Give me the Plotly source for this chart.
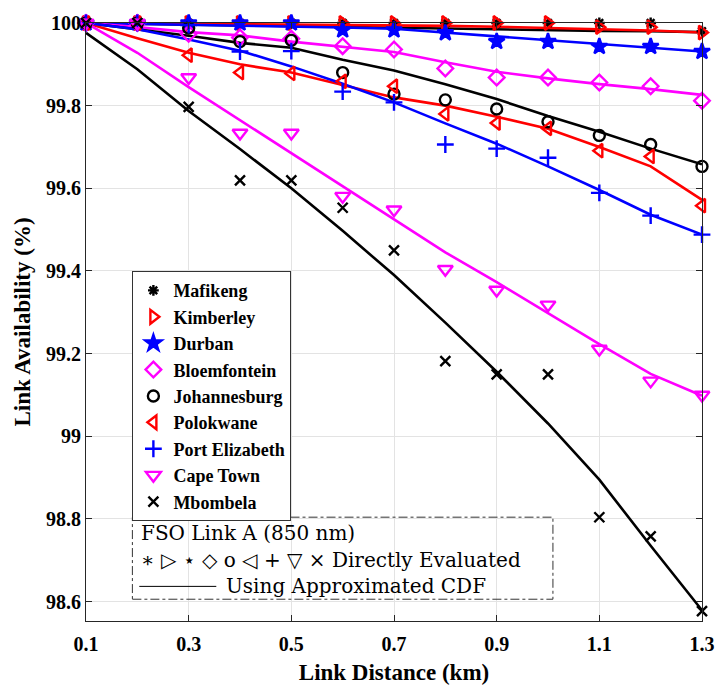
import plotly.graph_objects as go

# ---------------- data ----------------
distance_km = [0.1, 0.2, 0.3, 0.4, 0.5, 0.6, 0.7, 0.8, 0.9, 1.0, 1.1, 1.2, 1.3]

cities = ["Mafikeng", "Kimberley", "Durban", "Bloemfontein", "Johannesburg",
          "Polokwane", "Port Elizabeth", "Cape Town", "Mbombela"]

# Directly evaluated availability (%)
eval_mafikeng = [100, 100, 100, 100, 100, 100, 100, 100, 100, 100, 100, 100, 99.98]
eval_kimberley = [100, 100, 100, 100, 100, 100, 100, 100, 100, 100, 99.99, 99.99, 99.977]
eval_durban = [100, 100, 100, 100, 100, 99.983, 99.983, 99.976, 99.955, 99.955, 99.943, 99.943, 99.931]
eval_bloemfontein = [100, 100, 99.974, 99.965, 99.962, 99.944, 99.936, 99.890, 99.868, 99.868, 99.856, 99.847, 99.812]
eval_johannesburg = [100, 100, 99.988, 99.955, 99.958, 99.880, 99.828, 99.814, 99.792, 99.761, 99.728, 99.706, 99.653]
eval_polokwane = [100, 100, 99.922, 99.880, 99.878, 99.859, 99.847, 99.780, 99.758, 99.745, 99.691, 99.677, 99.558]
eval_port_elizabeth = [100, 100, 99.995, 99.931, 99.932, 99.834, 99.808, 99.706, 99.696, 99.674, 99.589, 99.534, 99.488]
eval_cape_town = [100, 100, 99.868, 99.734, 99.734, 99.581, 99.548, 99.404, 99.354, 99.318, 99.211, 99.134, 99.100]
eval_mbombela = [100, 100, 99.797, 99.619, 99.619, 99.553, 99.450, 99.182, 99.150, 99.150, 98.804, 98.758, 98.577]

# Using approximated CDF (%)
cdf_mafikeng = [100, 99.998, 99.996, 99.994, 99.992, 99.990, 99.988, 99.986, 99.985, 99.983, 99.981, 99.980, 99.978]
cdf_kimberley = [100, 99.999, 99.999, 99.998, 99.997, 99.996, 99.995, 99.993, 99.991, 99.988, 99.985, 99.982, 99.977]
cdf_durban = [100, 99.998, 99.995, 99.993, 99.991, 99.989, 99.986, 99.977, 99.968, 99.959, 99.950, 99.941, 99.931]
cdf_bloemfontein = [100, 99.990, 99.978, 99.970, 99.955, 99.943, 99.930, 99.905, 99.882, 99.866, 99.852, 99.840, 99.826]
cdf_johannesburg = [100, 99.985, 99.969, 99.952, 99.940, 99.911, 99.885, 99.852, 99.816, 99.775, 99.737, 99.696, 99.658]
cdf_polokwane = [100, 99.963, 99.928, 99.900, 99.880, 99.850, 99.820, 99.800, 99.773, 99.744, 99.700, 99.653, 99.572]
cdf_port_elizabeth = [100, 99.985, 99.960, 99.933, 99.895, 99.853, 99.808, 99.757, 99.708, 99.653, 99.596, 99.536, 99.488]
cdf_cape_town = [100, 99.928, 99.845, 99.765, 99.686, 99.605, 99.525, 99.445, 99.373, 99.297, 99.223, 99.151, 99.098]
cdf_mbombela = [99.976, 99.888, 99.787, 99.695, 99.600, 99.497, 99.390, 99.275, 99.156, 99.031, 98.895, 98.735, 98.579]

x_ticks = [0.1, 0.3, 0.5, 0.7, 0.9, 1.1, 1.3]
x_tick_labels = ["0.1", "0.3", "0.5", "0.7", "0.9", "1.1", "1.3"]
y_ticks = [98.6, 98.8, 99.0, 99.2, 99.4, 99.6, 99.8, 100]
y_tick_labels = ["98.6", "98.8", "99", "99.2", "99.4", "99.6", "99.8", "100"]

evaluated = [eval_mafikeng, eval_kimberley, eval_durban, eval_bloemfontein, eval_johannesburg,
             eval_polokwane, eval_port_elizabeth, eval_cape_town, eval_mbombela]
approximated = [cdf_mafikeng, cdf_kimberley, cdf_durban, cdf_bloemfontein, cdf_johannesburg,
                cdf_polokwane, cdf_port_elizabeth, cdf_cape_town, cdf_mbombela]

# ---------------- styles ----------------
colors = ["#000000", "#FF0000", "#0000FF", "#FF00FF", "#000000",
          "#FF0000", "#0000FF", "#FF00FF", "#000000"]
symbols = ["asterisk-open", "triangle-right-open", "star", "diamond-open", "circle-open",
           "triangle-left-open", "cross-thin-open", "triangle-down-open", "x-thin-open"]
sizes = [9, 12, 12, 12, 11, 12, 12, 13, 10]

fig = go.Figure()

for name, col, cdf in zip(cities, colors, approximated):
    fig.add_trace(go.Scatter(
        x=distance_km, y=cdf, mode="lines", name=name + " (CDF)",
        line=dict(color=col, width=2.6), showlegend=False, cliponaxis=False))

for name, col, sym, sz, ev in zip(cities, colors, symbols, sizes, evaluated):
    fig.add_trace(go.Scatter(
        x=distance_km, y=ev, mode="markers", name=name,
        marker=dict(symbol=sym, size=sz, color=col, line=dict(color=col, width=2.4)),
        cliponaxis=False))

serif_bold = dict(family="Liberation Serif", color="#000000")
axis_common = dict(
    showgrid=True, gridcolor="#e3e3e3", gridwidth=1, zeroline=False,
    showline=True, linecolor="#262626", linewidth=1, mirror="ticks",
    ticks="inside", ticklen=6, tickcolor="#262626", tickwidth=1,
)

fig.update_layout(
    width=727, height=692,
    margin=dict(l=86, r=17, t=18, b=69),
    paper_bgcolor="white", plot_bgcolor="white",
    font=dict(family="Liberation Serif", color="#000000"),
    xaxis=dict(range=[0.1, 1.3], tickvals=x_ticks, ticktext=x_tick_labels,
               tickfont=dict(size=20, weight="bold", **serif_bold), ticklabelstandoff=5,
               title=dict(text="Link Distance (km)", standoff=9,
                          font=dict(size=23, weight="bold", **serif_bold)),
               **axis_common),
    yaxis=dict(range=[98.553, 100], tickvals=y_ticks, ticktext=y_tick_labels,
               tickfont=dict(size=20, weight="bold", **serif_bold),
               title=dict(text="Link Availability (%)", standoff=8,
                          font=dict(size=23, weight="bold", **serif_bold)),
               **axis_common),
    legend=dict(x=0.0753, y=0.585, xanchor="left", yanchor="top",
                bgcolor="white", bordercolor="#333333", borderwidth=1,
                font=dict(size=18, weight="bold", family="Liberation Serif", color="#000000"),
                itemwidth=30, tracegroupgap=0, entrywidth=145, entrywidthmode="pixels"),
)

# annotation box
fig.add_shape(type="rect", xref="paper", yref="paper",
              x0=0.0753, x1=0.758, y0=0.0364, y1=0.1736,
              line=dict(color="#333333", width=1, dash="dashdot"), fillcolor="rgba(0,0,0,0)")
fig.add_shape(type="line", xref="paper", yref="paper",
              x0=0.0865, x1=0.2115, y0=0.0579, y1=0.0579,
              line=dict(color="#000000", width=1))
ann_font = dict(family="DejaVu Serif", size=20, color="#000000")
fig.add_annotation(xref="paper", yref="paper", x=0.0865, y=0.147, xanchor="left", yanchor="middle",
                   text="FSO Link A (850 nm)", showarrow=False, font=ann_font)
fig.add_annotation(xref="paper", yref="paper", x=0.0865, y=0.1025, xanchor="left", yanchor="middle",
                   text="∗ ▷ ⋆ ◇ o ◁ + ▽ × Directly Evaluated", showarrow=False, font=ann_font)
fig.add_annotation(xref="paper", yref="paper", x=0.224, y=0.0579, xanchor="left", yanchor="middle",
                   text="Using Approximated CDF", showarrow=False, font=ann_font)

fig.write_html("out.html")
